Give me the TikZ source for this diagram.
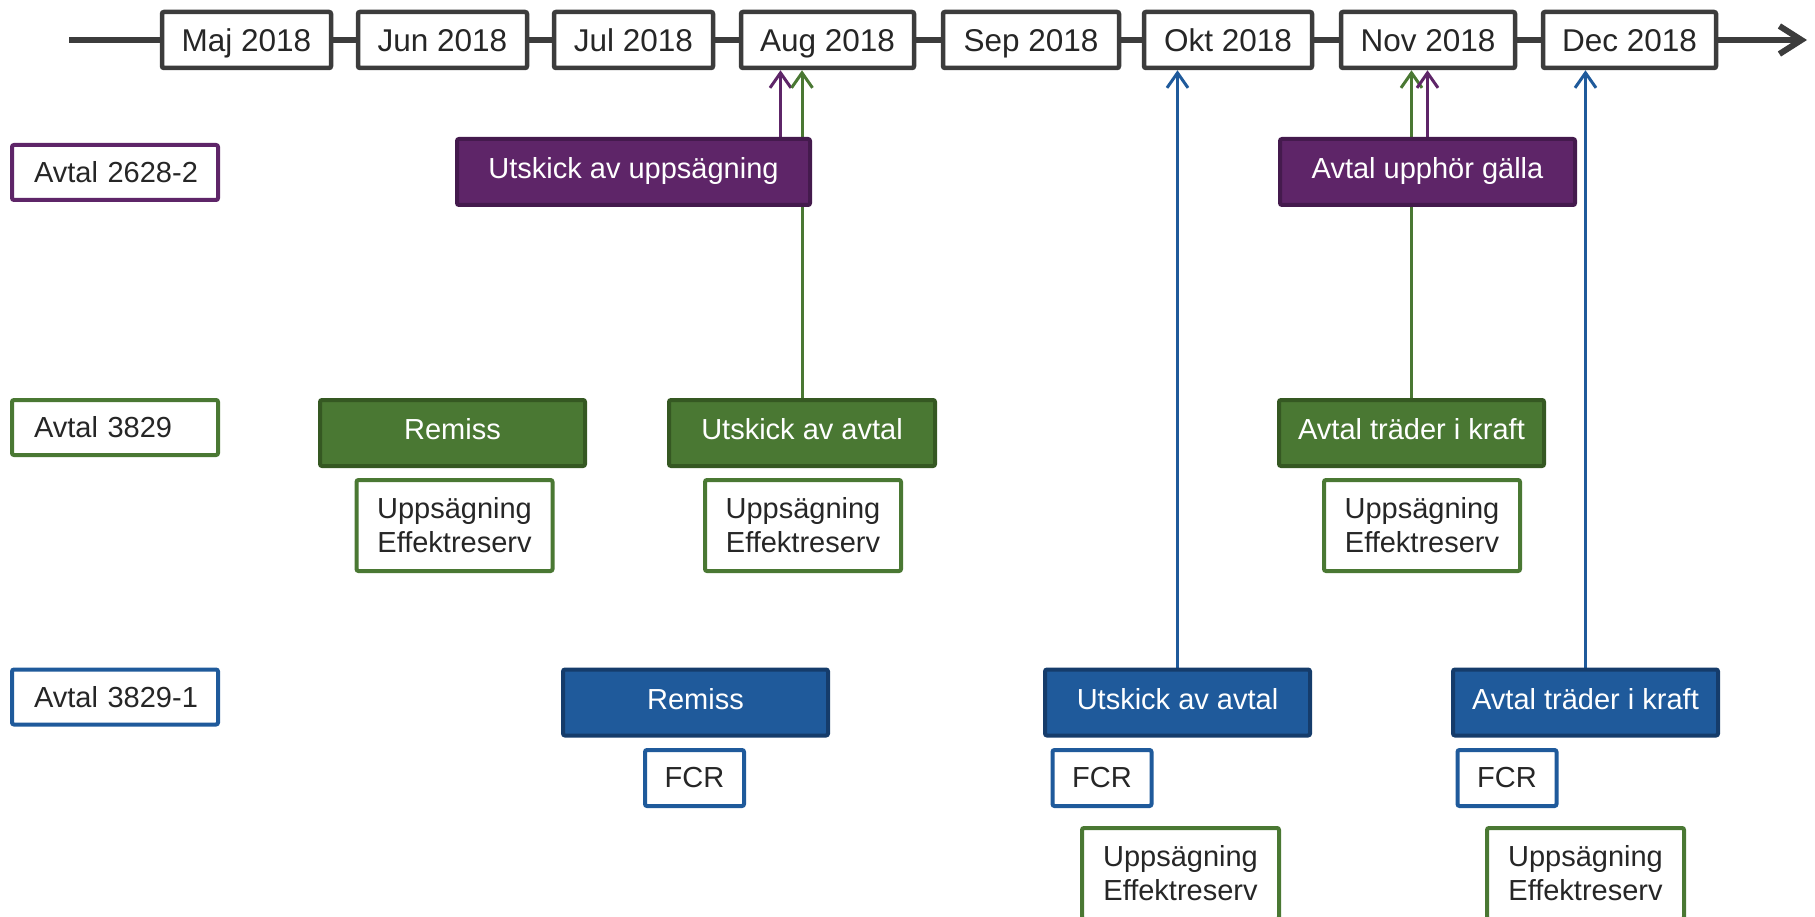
\documentclass[tikz,border=0pt]{standalone}
\usepackage{fontspec}
\setmainfont{Liberation Sans}
\usetikzlibrary{arrows.meta}
\usetikzlibrary{backgrounds}

\definecolor{lilac}{RGB}{94,37,104}
\definecolor{lilacdark}{RGB}{68,26,77}
\definecolor{grass}{RGB}{74,120,51}
\definecolor{grassdark}{RGB}{53,88,34}
\definecolor{sea}{RGB}{31,90,155}
\definecolor{seadark}{RGB}{21,60,107}
\definecolor{ink}{RGB}{38,38,38}
\definecolor{axis}{RGB}{60,60,60}

\begin{document}
\begin{tikzpicture}[x=1pt,y=-1pt,
    every node/.style={font=\fontsize{29}{34}\selectfont,text=ink,inner sep=0pt},
    month/.style={draw=axis,line width=4.5pt,fill=white,rounded corners=2pt,
      minimum height=56pt,text height=28pt,text depth=5.4pt,font=\fontsize{31.5}{36}\selectfont},
    tag/.style={draw=#1,line width=4pt,fill=white,rounded corners=2pt,
      minimum height=55pt,text width=185pt,align=left,inner xsep=10.5pt,
      text height=26pt,text depth=5.2pt,execute at begin node={\hspace*{11.5pt}}},
    event/.style={fill=#1,draw=#1dark,line width=4pt,text=white,rounded corners=2pt,
      minimum height=66pt,text height=22pt,text depth=8.2pt},
    note/.style={draw=#1,line width=4pt,fill=white,rounded corners=2pt,align=center},
    link/.style={draw=#1,line width=3pt,-{Straight Barb[length=15pt,width=21pt]}}]

    \useasboundingbox (0,0) rectangle (1815,917);

    % tidslinje
    \coordinate (t0) at (69,40);
    \coordinate (t1) at (1807,40);
    \foreach \name/\lab/\cx/\w in {maj/Maj/246.5/169, jun/Jun/442.5/169, jul/Jul/633.5/159,
        aug/Aug/827.5/173, sep/Sep/1031/176, okt/Okt/1228/168, nov/Nov/1428/174, dec/Dec/1629.5/173}
    {
      \node [month,minimum width=\w pt] (\name) at (\cx,40) {\lab\ 2018};
    }

    \node [tag=lilac] (a2628) at (115,172.5) {Avtal 2628-2};
    \node [tag=grass] (a3829) at (115,427.5) {Avtal 3829};
    \node [tag=sea]   (a38291) at (115,697) {Avtal 3829-1};

    % Avtal 2628-2
    \node [event=lilac,minimum width=353pt] (uppsag) at (633.5,172) {Utskick av uppsägning};
    \node [event=lilac,minimum width=295pt] (upphor) at (1427.5,172) {Avtal upphör gälla};

    % Avtal 3829
    \node [event=grass,minimum width=265pt] (gremiss) at (452.5,433) {Remiss};
    \node [event=grass,minimum width=266pt] (gutskick) at (802,433) {Utskick av avtal};
    \node [event=grass,minimum width=265pt] (gkraft) at (1411.5,433) {Avtal träder i kraft};

    \node [note=grass,minimum width=196pt,minimum height=91pt] (eff1) at (454.5,525.5) {Uppsägning\\Effektreserv};
    \node [note=grass,minimum width=196pt,minimum height=91pt] (eff2) at (803,525.5) {Uppsägning\\Effektreserv};
    \node [note=grass,minimum width=196pt,minimum height=91pt] (eff3) at (1422,525.5) {Uppsägning\\Effektreserv};

    % Avtal 3829-1
    \node [event=sea,minimum width=265pt] (sremiss) at (695.5,702.5) {Remiss};
    \node [event=sea,minimum width=265pt] (sutskick) at (1177.5,702.5) {Utskick av avtal};
    \node [event=sea,minimum width=265pt] (skraft) at (1585.5,702.5) {Avtal träder i kraft};

    \node [note=sea,minimum width=99pt,minimum height=56pt,text height=19pt] (fcr1) at (694.5,778) {FCR};
    \node [note=sea,minimum width=99pt,minimum height=56pt,text height=19pt] (fcr2) at (1102,778) {FCR};
    \node [note=sea,minimum width=99pt,minimum height=56pt,text height=19pt] (fcr3) at (1507,778) {FCR};

    \node [note=grass,minimum width=197pt,minimum height=91pt] (eff4) at (1180.5,873.5) {Uppsägning\\Effektreserv};
    \node [note=grass,minimum width=197pt,minimum height=91pt] (eff5) at (1585.5,873.5) {Uppsägning\\Effektreserv};

    \begin{scope}[on background layer]
      \draw [line width=6pt,draw=axis,-{Straight Barb[length=22pt,width=28pt]}] (t0) -- (t1);

      \draw [link=lilac] ([xshift=147pt]uppsag.north) -- ([xshift=147pt]uppsag.north |- aug.south);
      \draw [link=grass] (gutskick.north) -- (gutskick.north |- aug.south);
      \draw [link=grass] (gkraft.north) -- (gkraft.north |- nov.south);
      \draw [link=lilac] (upphor.north) -- (upphor.north |- nov.south);
      \draw [link=sea] (sutskick.north) -- (sutskick.north |- okt.south);
      \draw [link=sea] (skraft.north) -- (skraft.north |- dec.south);
    \end{scope}

  \end{tikzpicture}
\end{document}
